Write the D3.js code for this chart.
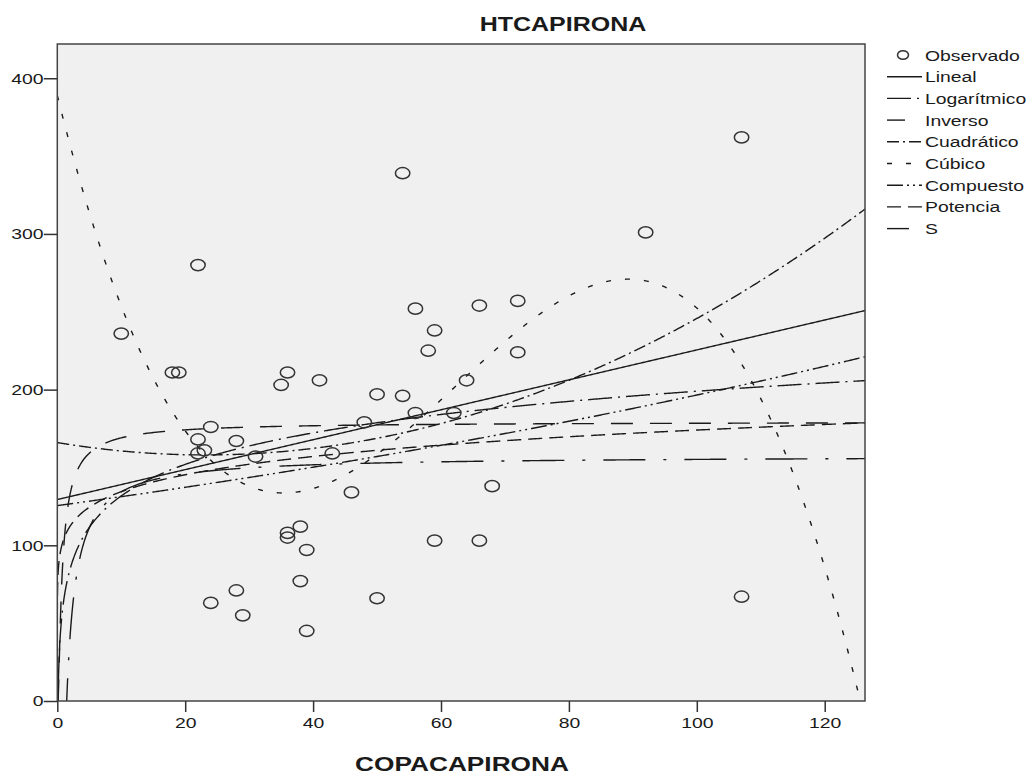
<!DOCTYPE html>
<html><head><meta charset="utf-8">
<script src="https://cdn.jsdelivr.net/npm/d3@7"></script>
<style>
body{margin:0;background:#fff}
text{font-family:"Liberation Sans",Arial,sans-serif;fill:#1a1a1a}
</style>
</head><body>
<svg id="c" width="1032" height="774"></svg>
<script>
// ---- data ----
const obsX = [10,18,19,22,24,22,22,23,28,31,36,35,41,43,48,50,54,56,62,64,56,59,58,66,72,72,54,92,107,107,46,38,36,36,39,59,66,68,38,28,24,29,50,39];
const obsY = [236,211,211,280,176,168,159,161,167,157,211,203,206,159,179,197,196,185,185,206,252,238,225,254,257,224,339,301,362,67,134,112,108,105,97,103,103,138,77,71,63,55,66,45];
const xTicks = [0,20,40,60,80,100,120];
const yTicks = [0,100,200,300,400];
const legendLabels = ["Observado","Lineal","Logarítmico","Inverso","Cuadrático","Cúbico","Compuesto","Potencia","S"];
// fitted-model coefficients
const linealCoef = [129.4, 0.961];
const logCoef = [64.5, 29.2];
const inversoCoef = [157.5, -231.6];
const cuadraticoCoef = [166, -0.687, 0.01484];
const cubicoCoef = [389, -16.636, 0.32832, -0.0017562];
const compuestoCoef = [125.5, 1.004495];
const potenciaCoef = [103.9, 0.112];
const sCoef = [5.19, -0.6];

// ---- drawing ----
const SX = 1.25; // horizontal stretch of the reference
const svg = d3.select("#c");
const L = 57.3, R = 865, T = 44, B = 701;
const x = d3.scaleLinear().domain([0, 126.3]).range([L, R]);
const y = d3.scaleLinear().domain([0, 422]).range([B, T]);

svg.append("rect").attr("x", L).attr("y", T).attr("width", R - L).attr("height", B - T)
  .attr("fill", "#f0f0f0");

svg.append("defs").append("clipPath").attr("id", "clip")
  .append("rect").attr("x", L).attr("y", T).attr("width", R - L).attr("height", B - T);

const models = [
  {name: "Lineal", f: v => linealCoef[0] + linealCoef[1] * v, dash: null, off: 0},
  {name: "Logarítmico", f: v => v <= 0 ? -1e9 : logCoef[0] + logCoef[1] * Math.log(v), dash: "24,6,2,6", off: 0},
  {name: "Inverso", f: v => v <= 0 ? -1e9 : inversoCoef[0] + inversoCoef[1] / v, dash: "42,18,3,18", off: 24},
  {name: "Cuadrático", f: v => cuadraticoCoef[0] + cuadraticoCoef[1] * v + cuadraticoCoef[2] * v * v, dash: "12,4,2,4", off: 0},
  {name: "Cúbico", f: v => cubicoCoef[0] + cubicoCoef[1] * v + cubicoCoef[2] * v * v + cubicoCoef[3] * v * v * v, dash: "5,14", off: 0},
  {name: "Compuesto", f: v => compuestoCoef[0] * Math.pow(compuestoCoef[1], v), dash: "16,4,2,4,2,4", off: 0},
  {name: "Potencia", f: v => potenciaCoef[0] * Math.pow(v, potenciaCoef[1]), dash: "14,7", off: 0},
  {name: "S", f: v => v <= 0 ? 0 : Math.exp(sCoef[0] + sCoef[1] / v), dash: "22,17", off: 0}
];

const xmax = x.domain()[1];
const xs = [0].concat(d3.range(-4, 0.5, 0.02).map(e => Math.pow(10, e)), d3.range(3.2, xmax, 0.2), [xmax]);

const gCurves = svg.append("g").attr("clip-path", "url(#clip)");
const line = d3.line().x(d => x(d[0])).y(d => y(Math.max(-60, Math.min(600, d[1]))));
models.forEach(m => {
  gCurves.append("path")
    .datum(xs.map(v => [v, m.f(v)]))
    .attr("d", line)
    .attr("fill", "none")
    .attr("stroke", "#1a1a1a")
    .attr("stroke-width", 1.4)
    .attr("stroke-dasharray", m.dash);
});

// observed points
svg.append("g").selectAll("ellipse").data(obsX.map((v, i) => [v, obsY[i]])).join("ellipse")
  .attr("cx", d => x(d[0])).attr("cy", d => y(d[1]))
  .attr("rx", 7.2).attr("ry", 5.6)
  .attr("fill", "none").attr("stroke", "#333").attr("stroke-width", 1.5);

// frame
svg.append("rect").attr("x", L).attr("y", T).attr("width", R - L).attr("height", B - T)
  .attr("fill", "none").attr("stroke", "#444").attr("stroke-width", 1.5);

// axes
const ya = svg.append("g").attr("transform", `translate(${L},0)`)
  .call(d3.axisLeft(y).tickValues(yTicks).tickSize(13.5).tickPadding(0).tickFormat(d3.format("d")));
ya.select(".domain").remove();
ya.selectAll(".tick line").attr("stroke", "#333").attr("stroke-width", 1.5);
ya.selectAll(".tick text").attr("x", -13.8 / SX).attr("transform", `scale(${SX},1)`)
  .style("font-size", "15.5px").attr("fill", "#1a1a1a");

const xa = svg.append("g").attr("transform", `translate(0,${B})`)
  .call(d3.axisBottom(x).tickValues(xTicks).tickSize(11).tickPadding(5).tickFormat(d3.format("d")));
xa.select(".domain").remove();
xa.selectAll(".tick line").attr("stroke", "#333").attr("stroke-width", 1.5);
xa.selectAll(".tick text").attr("transform", `scale(${SX},1)`)
  .style("font-size", "15.5px").attr("fill", "#1a1a1a");

function stext(px, py, str, size, weight, anchor) {
  return svg.append("text")
    .attr("transform", `translate(${px},${py}) scale(${SX},1)`)
    .attr("text-anchor", anchor || "start")
    .style("font-size", size + "px").style("font-weight", weight || "normal")
    .text(str);
}
stext(563, 31, "HTCAPIRONA", 20, "bold", "middle");
stext(462, 771, "COPACAPIRONA", 21, "bold", "middle");

// legend
const lg = svg.append("g");
const rowY = i => 55 + i * 21.7;
legendLabels.forEach((lab, i) => {
  const yy = rowY(i);
  if (i === 0) {
    lg.append("ellipse").attr("cx", 903).attr("cy", yy).attr("rx", 5.5).attr("ry", 4.3)
      .attr("fill", "none").attr("stroke", "#333").attr("stroke-width", 1.5);
  } else {
    const m = models[i - 1];
    lg.append("line").attr("x1", 887).attr("x2", 922).attr("y1", yy).attr("y2", yy)
      .attr("stroke", "#1a1a1a").attr("stroke-width", 1.4)
      .attr("stroke-dasharray", m.dash).attr("stroke-dashoffset", m.off);
  }
  stext(925, yy + 5.5, lab, 15.5, "normal", "start");
});
</script>
</body></html>
